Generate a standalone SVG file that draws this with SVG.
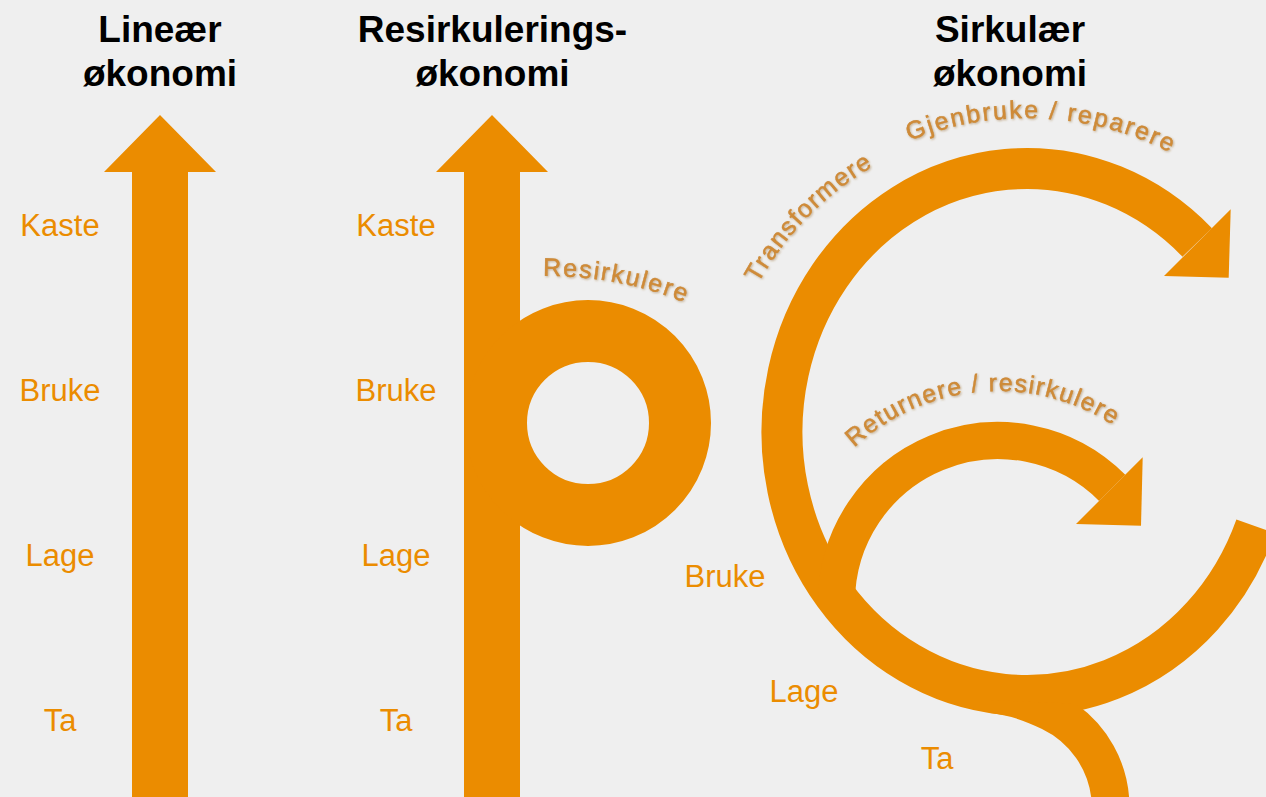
<svg xmlns="http://www.w3.org/2000/svg" xmlns:xlink="http://www.w3.org/1999/xlink" width="1266" height="797" viewBox="0 0 1266 797">
  <style>
    .bg { fill: #efefef; }
    .shape { fill: #eb8c00; }
    .band { fill: none; stroke: #eb8c00; stroke-linecap: butt; }
    .title { font-family: "Liberation Sans", Arial, sans-serif; font-weight: bold; font-size: 37px; fill: #000000; text-anchor: middle; }
    .label { font-family: "Liberation Sans", Arial, sans-serif; font-size: 31px; fill: #eb8c00; text-anchor: middle; }
    .curve { font-family: "Liberation Sans", Arial, sans-serif; font-size: 25px; fill: #d08b38; stroke: #c8842f; stroke-width: 0.4px; letter-spacing: 1.8px; }
  </style>
  <defs>
    <filter id="soft" x="-10%" y="-30%" width="120%" height="160%">
      <feGaussianBlur in="SourceAlpha" stdDeviation="1.2" result="b"/>
      <feOffset in="b" dx="1" dy="1" result="o"/>
      <feFlood flood-color="#8a5a20" flood-opacity="0.45"/>
      <feComposite in2="o" operator="in" result="s"/>
      <feGaussianBlur in="SourceGraphic" stdDeviation="0.5" result="t"/>
      <feMerge><feMergeNode in="s"/><feMergeNode in="t"/></feMerge>
    </filter>
    <path id="pResirk" d="M 543 276 A 365 365 0 0 1 700 309"/>
    <path id="pTrans" d="M 758.2 283.6 A 307 307 0 0 1 897.3 153.8"/>
    <path id="pGjen" d="M 909.4 140.9 A 314 314 0 0 1 1207.1 174.8"/>
    <path id="pRetur" d="M 854.1 447.7 A 211 211 0 0 1 1147.2 452.8"/>
  </defs>

  <rect class="bg" x="0" y="0" width="1266" height="797"/>

  <!-- Titles -->
  <g id="title-linear">
    <text class="title" x="160" y="42">Lineær</text>
    <text class="title" x="160" y="86">økonomi</text>
  </g>
  <g id="title-resirk">
    <text class="title" x="492.5" y="42">Resirkulerings-</text>
    <text class="title" x="492.5" y="86">økonomi</text>
  </g>
  <g id="title-sirk">
    <text class="title" x="1010" y="42">Sirkulær</text>
    <text class="title" x="1010" y="86">økonomi</text>
  </g>

  <!-- Linear economy arrow -->
  <g id="linear-arrow">
    <polygon class="shape" points="160,115 216,172 188,172 188,797 132,797 132,172 104,172"/>
  </g>
  <g id="linear-labels">
    <text class="label" x="60" y="236">Kaste</text>
    <text class="label" x="60" y="401">Bruke</text>
    <text class="label" x="60" y="566">Lage</text>
    <text class="label" x="60" y="731">Ta</text>
  </g>

  <!-- Recycling economy arrow with loop -->
  <g id="resirk-arrow">
    <polygon class="shape" points="492,115 548,172 520,172 520,797 464,797 464,172 436,172"/>
    <circle class="band" cx="588" cy="423" r="92" stroke-width="62"/>
  </g>
  <g id="resirk-labels">
    <text class="label" x="396" y="236">Kaste</text>
    <text class="label" x="396" y="401">Bruke</text>
    <text class="label" x="396" y="566">Lage</text>
    <text class="label" x="396" y="731">Ta</text>
    <text class="curve" filter="url(#soft)"><textPath xlink:href="#pResirk" href="#pResirk">Resirkulere</textPath></text>
  </g>

  <!-- Circular economy -->
  <g id="circular-connectors">
    <path class="band" d="M 1255.7 526.4 A 245 263.5 0 1 1 1197.2 242.5" stroke-width="41"/>
    <polygon class="shape" points="1230.7,209.3 1228.7,277.7 1164,276"/>
    <path class="band" d="M 836.5 602 A 161.5 161.5 0 0 1 1112.2 487.8" stroke-width="37"/>
    <polygon class="shape" points="1142.7,457.3 1141,525.7 1076,524"/>
    <path class="shape" d="M 990 700 L 990 713 C 1010 715.5 1025 720.6 1042 729 A 88 88 0 0 1 1091.5 800 L 1129.3 800 A 126 126 0 0 0 1075.8 703.8 Z"/>
  </g>
  <g id="circular-labels">
    <text class="label" x="725" y="587">Bruke</text>
    <text class="label" x="804" y="702">Lage</text>
    <text class="label" x="937" y="769">Ta</text>
    <text class="curve" filter="url(#soft)" style="letter-spacing:1.5px"><textPath xlink:href="#pTrans" href="#pTrans">Transformere</textPath></text>
    <text class="curve" filter="url(#soft)" style="letter-spacing:2px"><textPath xlink:href="#pGjen" href="#pGjen">Gjenbruke / reparere</textPath></text>
    <text class="curve" filter="url(#soft)" style="letter-spacing:1.4px"><textPath xlink:href="#pRetur" href="#pRetur">Returnere / resirkulere</textPath></text>
  </g>
</svg>
